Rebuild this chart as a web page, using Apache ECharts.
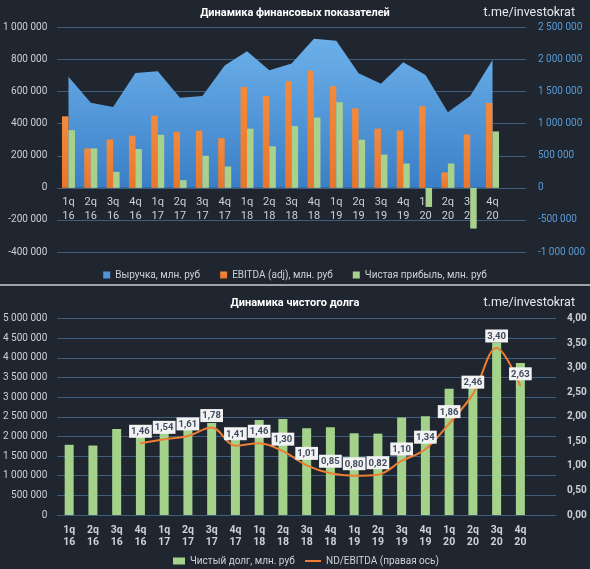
<!DOCTYPE html>
<html>
<head>
<meta charset="utf-8">
<script src="https://cdn.jsdelivr.net/npm/echarts@6/dist/echarts.min.js"></script>
<style>
html,body{margin:0;padding:0;background:#1f2630;}
#c{width:590px;height:569px;}
</style>
</head>
<body>
<div id="c"></div>
<script>
const quarters = ['1q\n16','2q\n16','3q\n16','4q\n16','1q\n17','2q\n17','3q\n17','4q\n17','1q\n18','2q\n18','3q\n18','4q\n18','1q\n19','2q\n19','3q\n19','4q\n19','1q\n20','2q\n20','3q\n20','4q\n20'];

const revenue = [1734000,1328000,1261000,1792000,1818000,1406000,1433000,1906000,2130000,1834000,1938000,2323000,2292000,1787000,1625000,1959000,1761000,1178000,1433000,1995000];
const ebitda = [446000,246000,302000,325000,450000,350000,356000,310000,629000,573000,665000,731000,634000,496000,369000,358000,509000,96000,333000,529000];
const netProfit = [360000,246000,100000,242000,331000,48000,200000,133000,369000,259000,385000,438000,534000,300000,208000,152000,-119000,152000,-254000,352000];

const netDebt = [1786000,1768000,2186000,2100000,2200000,2250000,2340000,2100000,2415000,2440000,2210000,2230000,2080000,2070000,2480000,2510000,3210000,3400000,4390000,3870000];
const ndEbitda = [null,null,null,1.46,1.54,1.61,1.78,1.41,1.46,1.30,1.01,0.85,0.80,0.82,1.10,1.34,1.86,2.46,3.40,2.63];

const title1 = 'Динамика финансовых показателей';
const title2 = 'Динамика чистого долга';
const watermark = 't.me/investokrat';
const names1 = ['Выручка, млн. руб', 'EBITDA (adj), млн. руб', 'Чистая прибыль, млн. руб'];
const names2 = ['Чистый долг, млн. руб', 'ND/EBITDA (правая ось)'];

const FONT = 'Roboto, "Noto Sans", sans-serif';
const GRID = '#3f5e7e';
const TXT = '#cdd1d7';

const cats = quarters.concat(['']);
const fmtThousands = v => String(Math.round(v)).replace(/\B(?=(\d{3})+(?!\d))/g, ' ');
const fmtComma = v => v.toFixed(2).replace('.', ',');

const chart = echarts.init(document.getElementById('c'), null, {renderer: 'canvas'});

// top grid geometry (zero line of the left axis sits at 1 000 000 / 1 400 000 of the height)
const g1Top = 27.5, g1H = 224.5, yMin1 = -400000, yMax1 = 1000000;
const zeroOffset = -g1H * (0 - yMin1) / (yMax1 - yMin1);

const option = {
  backgroundColor: '#1f2630',
  animation: false,
  textStyle: {fontFamily: FONT},
  title: [
    {text: title1, left: 'center', top: 3, textStyle: {color: '#ffffff', fontSize: 11, fontWeight: 'bold', fontFamily: FONT}},
    {text: watermark, right: 10, top: 1, textStyle: {color: '#e6e8eb', fontSize: 12.5, fontWeight: 'normal', fontFamily: FONT}},
    {text: title2, left: 'center', top: 293, textStyle: {color: '#ffffff', fontSize: 11, fontWeight: 'bold', fontFamily: FONT}},
    {text: watermark, right: 10, top: 291, textStyle: {color: '#e6e8eb', fontSize: 12.5, fontWeight: 'normal', fontFamily: FONT}}
  ],
  graphic: [
    {type: 'rect', shape: {x: 0, y: 284, width: 590, height: 2}, style: {fill: '#9ea3aa'}, z: 100}
  ],
  legend: [
    {
      data: names1, left: 'center', top: 265, icon: 'rect', itemWidth: 7, itemHeight: 7, itemGap: 20,
      textStyle: {color: TXT, fontSize: 10, fontFamily: FONT}
    },
    {
      data: [names2[0]], left: 168, top: 551, icon: 'rect', itemWidth: 12, itemHeight: 7,
      textStyle: {color: TXT, fontSize: 10, fontFamily: FONT}
    },
    {
      data: [names2[1]], left: 300, top: 551, icon: 'rect', itemWidth: 16, itemHeight: 2,
      textStyle: {color: TXT, fontSize: 10, fontFamily: FONT}
    }
  ],
  grid: [
    {left: 57, top: g1Top, width: 469, height: g1H, containLabel: false},
    {left: 57, top: 318.5, width: 499, height: 196.5, containLabel: false}
  ],
  xAxis: [
    {
      type: 'category', gridIndex: 0, data: cats, boundaryGap: true, position: 'bottom',
      offset: zeroOffset,
      axisLine: {show: false, onZero: false}, axisTick: {show: false},
      axisLabel: {color: TXT, fontSize: 11, lineHeight: 14, margin: 7, interval: 0, fontFamily: FONT}
    },
    {
      type: 'category', gridIndex: 1, data: cats, boundaryGap: true,
      axisLine: {show: true, lineStyle: {color: GRID, width: 1}}, axisTick: {show: false},
      axisLabel: {color: TXT, fontSize: 10.5, fontWeight: 'bold', lineHeight: 12.5, margin: 9, interval: 0, fontFamily: FONT}
    }
  ],
  yAxis: [
    {
      type: 'value', gridIndex: 0, min: yMin1, max: yMax1, interval: 200000,
      axisLine: {show: false}, axisTick: {show: false},
      splitLine: {lineStyle: {color: GRID, width: 1}},
      axisLabel: {color: TXT, fontSize: 10, margin: 10, formatter: fmtThousands, fontFamily: FONT}
    },
    {
      type: 'value', gridIndex: 0, position: 'right', min: -1000000, max: 2500000, interval: 500000,
      axisLine: {show: false}, axisTick: {show: false}, splitLine: {show: false},
      axisLabel: {color: '#5b9bd5', fontSize: 10, margin: 12, formatter: fmtThousands, fontFamily: FONT}
    },
    {
      type: 'value', gridIndex: 1, min: 0, max: 5000000, interval: 500000,
      axisLine: {show: false}, axisTick: {show: false},
      splitLine: {lineStyle: {color: GRID, width: 1}},
      axisLabel: {color: TXT, fontSize: 10, margin: 10, formatter: fmtThousands, fontFamily: FONT}
    },
    {
      type: 'value', gridIndex: 1, position: 'right', min: 0, max: 4, interval: 0.5,
      axisLine: {show: false}, axisTick: {show: false}, splitLine: {show: false},
      axisLabel: {color: TXT, fontSize: 10, fontWeight: 'bold', margin: 11, formatter: fmtComma, fontFamily: FONT}
    }
  ],
  series: [
    {
      name: names1[0], type: 'line', xAxisIndex: 0, yAxisIndex: 1, data: revenue,
      symbol: 'none', lineStyle: {width: 0},
      itemStyle: {color: '#4f95da'},
      areaStyle: {
        opacity: 1,
        color: new echarts.graphic.LinearGradient(0, 0, 0, 1, [
          {offset: 0, color: '#6cb0ea'},
          {offset: 1, color: '#3a7fc6'}
        ])
      },
      z: 1
    },
    {
      name: names1[1], type: 'bar', xAxisIndex: 0, yAxisIndex: 0, data: ebitda,
      barWidth: 6.5, barGap: '0%',
      itemStyle: {color: new echarts.graphic.LinearGradient(0, 0, 0, 1, [
        {offset: 0, color: '#f28a3e'}, {offset: 1, color: '#e8762c'}
      ])},
      z: 3
    },
    {
      name: names1[2], type: 'bar', xAxisIndex: 0, yAxisIndex: 0, data: netProfit,
      barWidth: 6.5, barGap: '0%',
      itemStyle: {color: '#a9d18e'},
      z: 3
    },
    {
      name: names2[0], type: 'bar', xAxisIndex: 1, yAxisIndex: 2, data: netDebt,
      barWidth: 9, itemStyle: {color: '#a4d28a'}, z: 2
    },
    {
      name: names2[1], type: 'line', xAxisIndex: 1, yAxisIndex: 3, data: ndEbitda,
      smooth: 0.35, symbol: 'circle', symbolSize: 1, showSymbol: true,
      lineStyle: {color: '#ed7d31', width: 2},
      itemStyle: {color: '#ed7d31'},
      label: {
        show: true, position: 'top', distance: 5,
        formatter: p => fmtComma(p.value),
        backgroundColor: '#f2f2f2', color: '#3e4c60', fontWeight: 'bold', fontSize: 9.5,
        padding: [2, 2, 1, 2], fontFamily: FONT
      },
      z: 4
    }
  ]
};
chart.setOption(option);
</script>
</body>
</html>
